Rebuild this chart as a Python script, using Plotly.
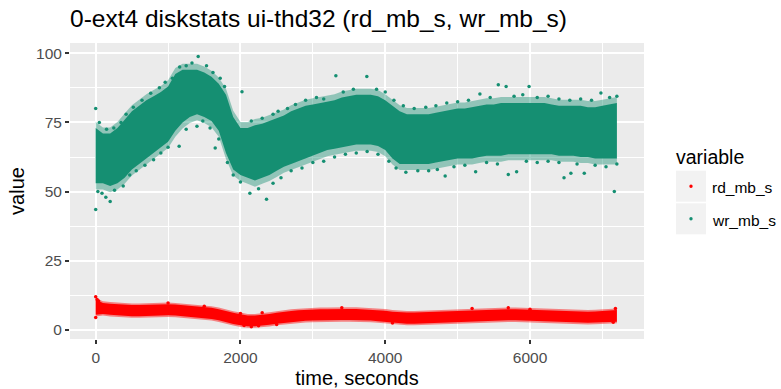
import plotly.graph_objects as go

# ---------------- data ----------------
time_grid = list(range(0, 7300, 100))  # seconds, 0..7200

wr_high = [73, 71, 71, 73, 76, 79, 81, 83, 84.5, 86,
           88, 92.5, 94, 94, 94, 93, 91.5, 89, 85, 77,
           73, 73, 74, 74.5, 75.5, 76.5, 77.5, 79, 80, 81,
           81.5, 82, 82.5, 83, 84, 84.5, 85, 85, 85, 84.5,
           83, 81, 79, 78, 78, 78, 78, 78.5, 79, 79.5,
           80, 80, 80.5, 81, 81.5, 81.5, 82, 82, 82, 82,
           82, 82, 82, 81.5, 81, 81, 81, 81, 80.5, 80.5,
           81, 81.5, 82]
wr_low = [53, 53, 52, 53, 55, 58, 60, 62, 64, 66,
          68, 72, 75, 77, 78, 77, 75.5, 72, 64, 58,
          56, 55, 54, 55, 56, 57.5, 59, 60, 61, 62,
          63, 64, 65, 65.5, 66, 66.5, 67, 67, 67, 66.5,
          65, 62, 60, 60, 60, 60, 60, 60.5, 61, 61.5,
          62, 62, 62, 62.5, 63, 63, 63, 63.5, 63.5, 63.5,
          63.5, 63.5, 63.5, 63.5, 63, 63, 63, 62.5, 62.5, 62,
          62, 62, 62]

rd_high = [11.0, 9.8, 9.5, 9.3, 9.2, 9.0, 9.0, 9.1, 9.2, 9.3,
           9.3, 9.2, 9.0, 8.8, 8.5, 8.3, 8.0, 7.5, 6.8, 6.2,
           5.7, 5.2, 5.2, 5.4, 5.8, 6.2, 6.6, 6.9, 7.1, 7.3,
           7.4, 7.5, 7.5, 7.6, 7.6, 7.6, 7.6, 7.5, 7.4, 7.2,
           7.0, 6.6, 6.4, 6.3, 6.3, 6.4, 6.5, 6.7, 6.8, 6.9,
           7.0, 7.1, 7.2, 7.3, 7.4, 7.5, 7.5, 7.5, 7.5, 7.4,
           7.3, 7.1, 7.0, 6.9, 6.8, 6.7, 6.6, 6.6, 6.6, 6.7,
           6.8, 6.9, 7.2]
rd_low = [5.5, 5.8, 5.5, 5.3, 5.2, 5.0, 5.0, 5.1, 5.2, 5.3,
          5.3, 5.2, 5.0, 4.8, 4.5, 4.3, 4.0, 3.5, 2.8, 2.2,
          1.7, 1.4, 1.4, 1.6, 1.9, 2.3, 2.6, 2.9, 3.1, 3.3,
          3.4, 3.5, 3.5, 3.6, 3.6, 3.6, 3.6, 3.5, 3.4, 3.2,
          3.0, 2.6, 2.4, 2.3, 2.3, 2.4, 2.5, 2.7, 2.8, 2.9,
          3.0, 3.1, 3.2, 3.3, 3.4, 3.5, 3.5, 3.5, 3.5, 3.4,
          3.3, 3.1, 3.0, 2.9, 2.8, 2.7, 2.6, 2.6, 2.6, 2.7,
          2.8, 2.9, 3.0]

# scattered individual points at the edges of the clouds and outliers
wr_pts_t = [50, 150, 250, 350, 420, 520, 640, 760, 880, 960,
            1060, 1160, 1250, 1330, 1416, 1531, 1620, 1720, 1780, 2021,
            2150, 2300, 2450, 2520, 2650, 2760, 2900, 3050, 3150, 3318,
            3420, 3560, 3746, 3880, 4000, 4120, 4250, 4400, 4560, 4700,
            4850, 5000, 5150, 5308, 5450, 5562, 5670, 5780, 5900, 5987,
            6100, 6250, 6400, 6550, 6700, 6850, 6980, 7100, 7200,
            0, 0, 30, 87, 140, 200, 260, 380, 470, 560,
            680, 800, 900, 1000, 1153, 1250, 1399, 1480, 1580, 1651,
            1700, 1820, 1900, 2000, 2130, 2250, 2360, 2450, 2560, 2700,
            2850, 3000, 3150, 3300, 3450, 3600, 3750, 3900, 4050, 4150,
            4285, 4450, 4600, 4720, 4828, 4950, 5100, 5249, 5400, 5550,
            5700, 5815, 5950, 6100, 6250, 6400, 6470, 6565, 6650, 6750,
            6900, 7050, 7165, 7200]
wr_pts_v = [75, 72.5, 73, 75, 78, 80.5, 83, 85.5, 87.5, 89.5,
            91, 95, 95.5, 96.5, 98.8, 95.5, 93, 91, 88, 86.1,
            75.5, 76.5, 78, 79, 80, 81.5, 83, 84, 83.5, 91.9,
            86, 87, 91.6, 87, 86, 83, 81, 80, 80.5, 81,
            82, 82.5, 83, 85.3, 84, 88.6, 88, 84.5, 85, 88,
            84, 84.5, 83.5, 83, 83.5, 83, 85.6, 84, 84.5,
            43.5, 80, 50, 49.4, 48, 46.4, 50.5, 52, 56, 57.5,
            59.5, 61.5, 64, 66, 66.4, 72.5, 73.6, 75.5, 73, 65.8,
            69, 60.5, 56, 53.5, 49.4, 51, 47.2, 53, 55, 57.5,
            58.5, 60.5, 61, 62.5, 63.5, 64, 64.5, 63.5, 61, 58.5,
            57, 57.5, 57.5, 58, 55.6, 59, 59.5, 57.2, 60.5, 60,
            56.2, 57.2, 61, 60.5, 61, 60.5, 55, 56.6, 60, 56.6,
            59.5, 59, 50, 60]

rd_pts_t = [0, 0, 20, 40, 1000, 1500, 2000, 2050, 2150, 2250,
            2300, 2500, 3400, 4100, 5200, 5700, 6000, 7150, 7180]
rd_pts_v = [12, 4.5, 11, 10.5, 9.8, 8.6, 6.0, 1.6, 1.2, 1.5,
            6.2, 2.0, 8.0, 2.5, 7.8, 8.0, 7.5, 2.8, 7.8]

series_names = ["rd_mb_s", "wr_mb_s"]
x_ticks = [0, 2000, 4000, 6000]
y_ticks = [0, 25, 50, 75, 100]

# ---------------- style ----------------
RED = "#FF0000"
GREEN = "#158F72"
FONT = "Liberation Sans, Arial, Helvetica, sans-serif"
FRINGE = 2.2  # width (data units) of the sparse fringe drawn around the dense cloud

fig = go.Figure()


def band(lo, hi, color):
    fig.add_trace(go.Scatter(x=time_grid, y=lo, mode="lines", line=dict(width=0),
                             showlegend=False, hoverinfo="skip"))
    fig.add_trace(go.Scatter(x=time_grid, y=hi, mode="lines", line=dict(width=0),
                             fill="tonexty", fillcolor=color,
                             showlegend=False, hoverinfo="skip"))


# wr cloud: sparse fringe + dense body
band([v - FRINGE for v in wr_low], [v + FRINGE for v in wr_high], "rgba(21,143,114,0.42)")
band(wr_low, wr_high, GREEN)

# rd cloud
band([v - 0.6 for v in rd_low], [v + 0.6 for v in rd_high], "rgba(255,0,0,0.45)")
band(rd_low, rd_high, RED)

# individual points
fig.add_trace(go.Scatter(x=rd_pts_t, y=rd_pts_v, mode="markers", name=series_names[0],
                         marker=dict(color=RED, size=3.5), showlegend=False))
fig.add_trace(go.Scatter(x=wr_pts_t, y=wr_pts_v, mode="markers", name=series_names[1],
                         marker=dict(color=GREEN, size=3.5), showlegend=False))

W, H = 781, 389
L, R, T, B = 70, 137, 43, 50
pw, ph = W - L - R, H - T - B


def px_x(x):
    return (x - L) / pw


def px_y(y):
    return (H - B - y) / ph


# manual legend (ggplot style): title, grey key boxes, dots, labels
fig.add_annotation(text="variable", xref="paper", yref="paper",
                   x=px_x(674), y=px_y(156.5), xanchor="left", yanchor="middle",
                   showarrow=False, font=dict(family=FONT, size=19.5, color="black"))
legend_rows = [(170.7, 201.7, RED, series_names[0]), (203.3, 234.3, GREEN, series_names[1])]
for y0, y1, col, name in legend_rows:
    fig.add_shape(type="rect", xref="paper", yref="paper",
                  x0=px_x(676), x1=px_x(706), y0=px_y(y1), y1=px_y(y0),
                  fillcolor="#F2F2F2", line=dict(width=0), layer="below")
    cy = (y0 + y1) / 2
    fig.add_shape(type="circle", xref="paper", yref="paper",
                  x0=px_x(689.3), x1=px_x(692.7), y0=px_y(cy + 1.7), y1=px_y(cy - 1.7),
                  fillcolor=col, line=dict(width=0))
    fig.add_annotation(text=name, xref="paper", yref="paper",
                       x=px_x(709.5), y=px_y(cy + 1.5), xanchor="left", yanchor="middle",
                       showarrow=False, font=dict(family=FONT, size=15.5, color="black"))

axis_common = dict(
    showgrid=True, gridcolor="white", gridwidth=2,
    zeroline=False, showline=False, automargin=False,
    ticks="outside", ticklen=4, tickwidth=1.5, tickcolor="#333333",
    tickfont=dict(family=FONT, size=15.5, color="#4D4D4D"),
)

fig.update_layout(
    width=W, height=H,
    margin=dict(l=L, r=R, t=T, b=B, pad=0),
    paper_bgcolor="white", plot_bgcolor="#EBEBEB",
    font=dict(family=FONT, color="black"),
    showlegend=False,
    title=dict(text="0-ext4 diskstats ui-thd32 (rd_mb_s, wr_mb_s)",
               font=dict(family=FONT, size=24.5, color="black"),
               x=0, xref="paper", xanchor="left",
               y=1 - 18.5 / H, yref="container", yanchor="middle"),
    xaxis=dict(range=[-355, 7575], tickvals=x_ticks, ticktext=[str(v) for v in x_ticks],
               minor=dict(showgrid=True, gridcolor="white", gridwidth=1, dtick=1000, tick0=1000, ticks=""),
               title=dict(text="time, seconds", font=dict(family=FONT, size=20, color="black"), standoff=6),
               **axis_common),
    yaxis=dict(range=[-3.25, 103.7], tickvals=y_ticks, ticktext=[str(v) for v in y_ticks],
               minor=dict(showgrid=True, gridcolor="white", gridwidth=1, dtick=12.5, tick0=12.5, ticks=""),
               title=dict(text="value", font=dict(family=FONT, size=20, color="black"), standoff=6),
               **axis_common),
)

fig.write_html("out.html")
